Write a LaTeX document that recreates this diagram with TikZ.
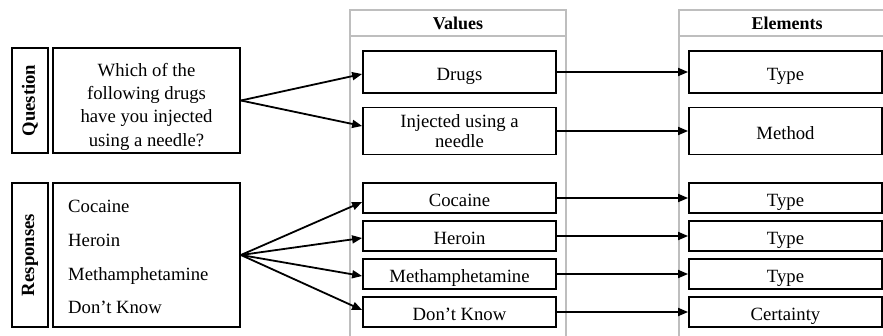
\documentclass[tikz,border=0pt]{standalone}
\usepackage{fontspec}
\setmainfont{Liberation Serif}
\usetikzlibrary{arrows.meta}
\definecolor{colgray}{RGB}{190,190,190}
\begin{document}
\begin{tikzpicture}[x=1bp,y=-1bp,
  every node/.style={font=\fontsize{18.7bp}{23.3bp}\selectfont},
  box/.style={draw=black, line width=1.8bp, inner sep=0pt, align=center},
  vbox/.style={box, minimum width=193bp},
  sbox/.style={vbox, text height=16bp, text depth=0pt},
  lbl/.style={box, rotate=90, minimum height=36bp, font=\fontsize{18.7bp}{23bp}\selectfont\bfseries},
  col/.style={draw=colgray, line width=2.5bp},
  hdr/.style={font=\fontsize{18bp}{22bp}\selectfont\bfseries},
  arr/.style={line width=1.8bp, -{Triangle[length=10bp,width=8bp]}},
  resp/.style={anchor=base west, inner sep=0pt}
]
\useasboundingbox (0,0) rectangle (883,335);
% columns
\draw[col] (350,336) -- (350,10) -- (566,10) -- (566,336);
\draw[col] (350,36) -- (566,36);
\draw[col] (679,336) -- (679,10) -- (884,10);
\draw[col] (679,36) -- (884,36);
\node[hdr] (hv) at (458,23) {Values};
\node[hdr] (he) at (787,23) {Elements};
% left side
\node[lbl, minimum width=105bp] (ql) at (30,100.5) {Question};
\node[box, minimum width=187bp, minimum height=105bp] (qb) at (146.5,100.5) {};
\node[align=center, inner sep=0pt] (qt) at (146.5,106.5) {Which of the\\following drugs\\have you injected\\using a needle?};
\node[lbl, minimum width=144bp] (rl) at (30,255) {Responses};
\node[box, minimum width=187bp, minimum height=144bp] (rb) at (146.5,255) {};
\node[resp] (r1) at (68,212) {Cocaine};
\node[resp] (r2) at (68,246) {Heroin};
\node[resp] (r3) at (68,280) {Methamphetamine};
\node[resp] (r4) at (68,313) {Don’t Know};
% values
\node[sbox, minimum height=42bp] (v1) at (459.5,72) {Drugs};
\node[vbox, minimum height=47bp, font=\fontsize{18.7bp}{20bp}\selectfont] (v2) at (459.5,131) {Injected using a\\needle};
\node[sbox, minimum height=30bp] (v3) at (459.5,198) {Cocaine};
\node[sbox, minimum height=30bp] (v4) at (459.5,236) {Heroin};
\node[sbox, minimum height=30bp] (v5) at (459.5,274) {Methamphetamine};
\node[sbox, minimum height=30bp] (v6) at (459.5,312) {Don’t Know};
% elements
\node[sbox, minimum height=42bp] (e1) at (785.5,72) {Type};
\node[sbox, minimum height=47bp] (e2) at (785.5,131) {Method};
\node[sbox, minimum height=30bp] (e3) at (785.5,198) {Type};
\node[sbox, minimum height=30bp] (e4) at (785.5,236) {Type};
\node[sbox, minimum height=30bp] (e5) at (785.5,274) {Type};
\node[sbox, minimum height=30bp] (e6) at (785.5,312) {Certainty};
% arrows
\draw[arr] (qb.east) -- ([yshift=-2bp]v1.west);
\draw[arr] (qb.east) -- ([yshift=5bp]v2.west);
\draw[arr] (rb.east) -- ([yshift=-4bp]v3.west);
\draw[arr] (rb.east) -- ([yshift=-2bp]v4.west);
\draw[arr] (rb.east) -- ([yshift=-2bp]v5.west);
\draw[arr] (rb.east) -- ([yshift=2bp]v6.west);
\foreach \i in {1,...,6} {\draw[arr] (v\i.east) -- (e\i.west);}
\end{tikzpicture}
\end{document}
